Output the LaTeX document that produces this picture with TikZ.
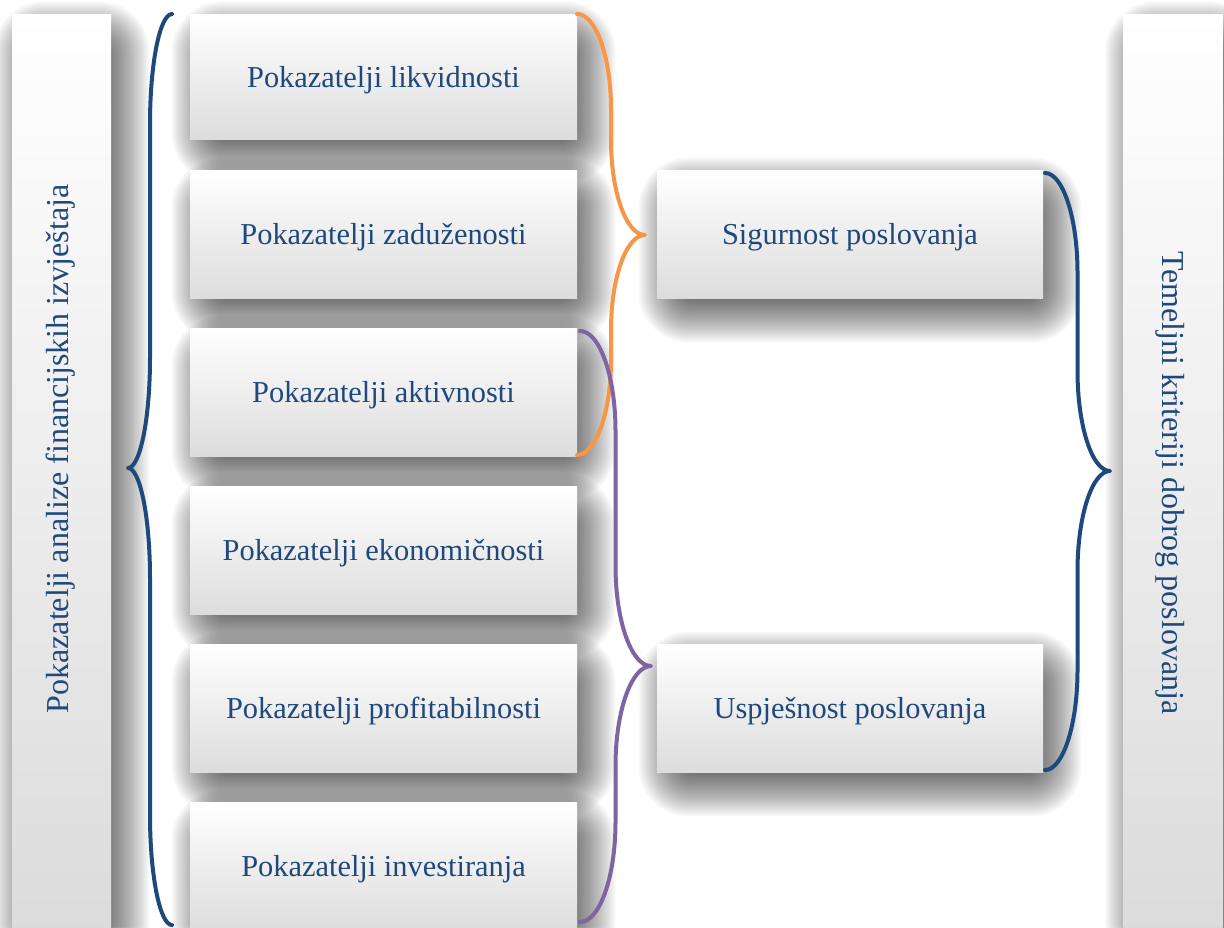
\documentclass[tikz,border=0pt]{standalone}
\usepackage{fontspec}
\setmainfont{Liberation Serif}
\usetikzlibrary{calc}
\pgfdeclarelayer{background}
\pgfsetlayers{background,main}
\definecolor{txtblue}{HTML}{1F497D}
\definecolor{brblue}{HTML}{1F497D}
\definecolor{brorange}{HTML}{F79646}
\definecolor{brpurple}{HTML}{8064A2}
\newcommand\mybrace[7]{%
 \pgfmathsetmacro\brM{(#1+#2)/2}%
 \pgfmathsetmacro\brca{#1+0.55*(\brM-#1)}%
 \pgfmathsetmacro\brcb{#2-0.55*(#2-\brM)}%
 \pgfmathsetmacro\brya{#3+#6*0.45}%
 \pgfmathsetmacro\bryb{#3+#6}%
 \pgfmathsetmacro\bryc{#4-#6}%
 \pgfmathsetmacro\bryd{#4-#6*0.45}%
 \pgfmathsetmacro\brye{#4+#6*0.45}%
 \pgfmathsetmacro\bryf{#4+#6}%
 \pgfmathsetmacro\bryg{#5-#6}%
 \pgfmathsetmacro\bryh{#5-#6*0.45}%
 \draw[#7] (#1,#3) .. controls (\brca,#3) and (\brM,\brya) .. (\brM,\bryb) -- (\brM,\bryc)
   .. controls (\brM,\bryd) and (\brcb,#4) .. (#2,#4)
   .. controls (\brcb,#4) and (\brM,\brye) .. (\brM,\bryf) -- (\brM,\bryg)
   .. controls (\brM,\bryh) and (\brca,#5) .. (#1,#5);
}
% soft shadow behind a named node (offset 10,16 px; blur 28 px)
\newcommand\softshadow[1]{%
 \foreach \i in {0,...,27} {%
   \pgfmathsetmacro\shr{max(0.5,(28-\i)*0.9)}%
   \fill[black, opacity=0.03, rounded corners=\shr pt]
     ([shift={({-18+\i*2},{-12+\i*2})}]#1.north west) rectangle
     ([shift={({38-\i*2},{44-\i*2})}]#1.south east);
 }%
}
\tikzset{
  boxstyle/.style={rectangle, inner sep=0pt, top color=white, bottom color=gray!27,
    text=txtblue, font=\fontsize{15.2}{18}\selectfont, text depth=0pt},
  barstyle/.style={rectangle, inner sep=0pt, top color=white, bottom color=gray!28,
    minimum width=49.5pt, minimum height=458pt},
  vlabel/.style={text=txtblue, font=\fontsize{16}{19}\selectfont, inner sep=0pt},
  bracestyle/.style={line width=2pt, line cap=round, line join=round}
}
\begin{document}
\begin{tikzpicture}[x=0.5pt, y=-0.5pt]
\clip (0,0) rectangle (1224,927);
% bars
\node[barstyle] (lbar) at (61.5,472) {};
\node[barstyle] (rbar) at (1173,472) {};
\node[vlabel, rotate=90] (ltext) at (61,449) {Pokazatelji analize financijskih izvještaja};
\node[vlabel, rotate=-90] (rtext) at (1170,483) {Temeljni kriteriji dobrog poslovanja};
% left boxes
\node[boxstyle, minimum width=193.5pt, minimum height=62.5pt] (b1) at (383.5,76.5) {Pokazatelji likvidnosti};
\node[boxstyle, minimum width=193.5pt, minimum height=64pt] (b2) at (383.5,234) {Pokazatelji zaduženosti};
\node[boxstyle, minimum width=193.5pt, minimum height=64pt] (b3) at (383.5,392) {Pokazatelji aktivnosti};
\node[boxstyle, minimum width=193.5pt, minimum height=64pt] (b4) at (383.5,550) {Pokazatelji ekonomičnosti};
\node[boxstyle, minimum width=193.5pt, minimum height=64pt] (b5) at (383.5,708) {Pokazatelji profitabilnosti};
\node[boxstyle, minimum width=193.5pt, minimum height=64pt] (b6) at (383.5,866) {Pokazatelji investiranja};
% middle boxes
\node[boxstyle, minimum width=193pt, minimum height=64pt] (m1) at (850,234) {Sigurnost poslovanja};
\node[boxstyle, minimum width=193pt, minimum height=64pt] (m2) at (850,708) {Uspješnost poslovanja};
% shadows
\begin{pgfonlayer}{background}
\fill[white] (0,0) rectangle (1224,927);
\softshadow{lbar}\softshadow{rbar}
\softshadow{b1}\softshadow{b2}\softshadow{b3}\softshadow{b4}\softshadow{b5}\softshadow{b6}
\softshadow{m1}\softshadow{m2}
\end{pgfonlayer}
% braces
\mybrace{172}{128}{14}{468}{925}{110}{bracestyle, brblue}
\mybrace{577}{645}{14}{235}{455}{95}{bracestyle, brorange}
\mybrace{580}{651}{331}{666}{922}{100}{bracestyle, brpurple}
\mybrace{1045}{1110}{173}{471}{770}{100}{bracestyle, brblue}
\end{tikzpicture}
\end{document}
